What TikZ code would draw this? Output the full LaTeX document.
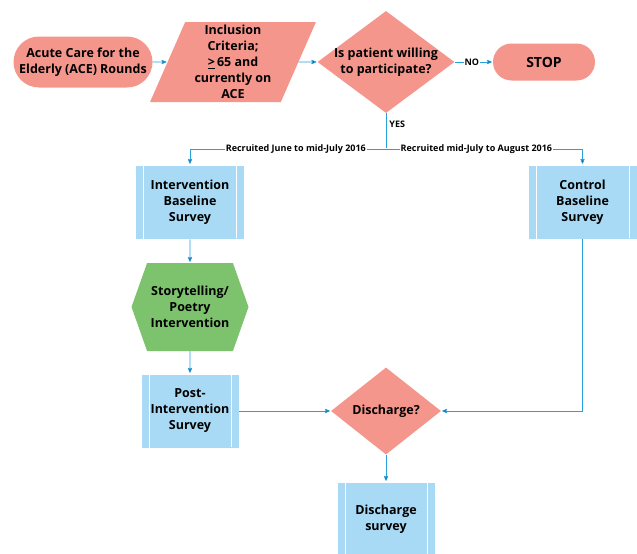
\documentclass[tikz,border=0pt]{standalone}
\usepackage{fontspec}
\setmainfont{Open Sans}
\usetikzlibrary{shapes,arrows}
\definecolor{salmon}{RGB}{245,150,140}
\definecolor{skyfill}{RGB}{168,218,245}
\definecolor{leaf}{RGB}{125,195,110}
\definecolor{wire}{RGB}{40,160,220}

\begin{document}
\begin{tikzpicture}[x=1pt,y=-1pt,>=stealth',shorten >=1pt,auto,
  txt/.style={font=\fontsize{12.5}{16}\selectfont\bfseries,align=center,inner sep=0pt},
  term node/.style={txt,rounded rectangle,fill=salmon},
  data node/.style={txt,trapezium,trapezium left angle=69,trapezium right angle=111,
    trapezium stretches=true,fill=salmon,minimum width=166pt,minimum height=80pt},
  decision node/.style={txt,diamond,fill=salmon,aspect=1.34,inner sep=-3pt,minimum width=137pt,minimum height=102pt},
  hex node/.style={txt,signal,signal to=west and east,signal pointer angle=141,
    fill=leaf,minimum width=117pt,minimum height=88pt},
  survey node/.style={txt,rectangle,fill=skyfill,draw=white,line width=0.6pt,
    minimum width=109pt,minimum height=74pt,
    path picture={\draw[-,white,line width=1pt]
      ([xshift=8pt]path picture bounding box.north west) -- ([xshift=8pt]path picture bounding box.south west)
      ([xshift=-8pt]path picture bounding box.north east) -- ([xshift=-8pt]path picture bounding box.south east);}},
  elbow/.style={to path={-| (\tikztotarget) \tikztonodes}},
  drop/.style={to path={|- (\tikztotarget) \tikztonodes}}]

  \useasboundingbox (0,0) rectangle (637,554);

  \node[term node,minimum width=139pt,minimum height=51pt] (ace) at (83,62) {Acute Care for the\\Elderly (ACE) Rounds};
  \node[data node] (crit) [right of=ace, node distance=150pt] {Inclusion\\Criteria;\\\underline{>}\,65 and\\currently on\\ACE};
  \node[decision node] (willing) [right of=crit, node distance=153pt] {Is patient willing\\to participate?};
  \node[term node,minimum width=102pt,minimum height=37pt,font=\fontsize{14}{16}\selectfont\bfseries] (stop) [right of=willing, node distance=158pt] {STOP};

  \coordinate (split) at (386,149);

  \node[survey node] (intbase) at (190,202) {Intervention\\Baseline\\Survey};
  \node[survey node] (ctrlbase) [right of=intbase, node distance=392.5pt] {Control\\Baseline\\Survey};
  \node[hex node] (story) [below of=intbase, node distance=105pt] {Storytelling/\\Poetry\\Intervention};
  \node[survey node,minimum width=98pt] (post) [below of=story, node distance=104pt] {Post-\\Intervention\\Survey};
  \node[decision node,aspect=1.26,minimum width=110pt,minimum height=87pt] (discharge) [right of=post, node distance=196pt] {Discharge?};
  \node[survey node,minimum width=98pt] (dsurvey) [below of=discharge, node distance=108pt] {Discharge\\survey};

  \path[draw=wire,line width=0.8pt,every node/.style={font=\fontsize{9}{10}\selectfont\bfseries,fill=white,inner sep=1pt,auto=false}]
    (ace) edge[->] (crit)
    (crit) edge[->] (willing)
    (willing) edge[->] node[pos=0.45] {NO} (stop)
    (willing) edge node[anchor=west,fill=none,pos=0.3,xshift=2pt] {YES} (split)
    (split) edge[->,elbow] node[pos=0.23] {Recruited June to mid-July 2016} (intbase)
    (split) edge[->,elbow] node[pos=0.23] {Recruited mid-July to August 2016} (ctrlbase)
    (intbase) edge[->] (story)
    (story) edge[->] (post)
    (post) edge[->] (discharge)
    (ctrlbase) edge[->,drop] (discharge)
    (discharge) edge[->] (dsurvey);
\end{tikzpicture}
\end{document}
